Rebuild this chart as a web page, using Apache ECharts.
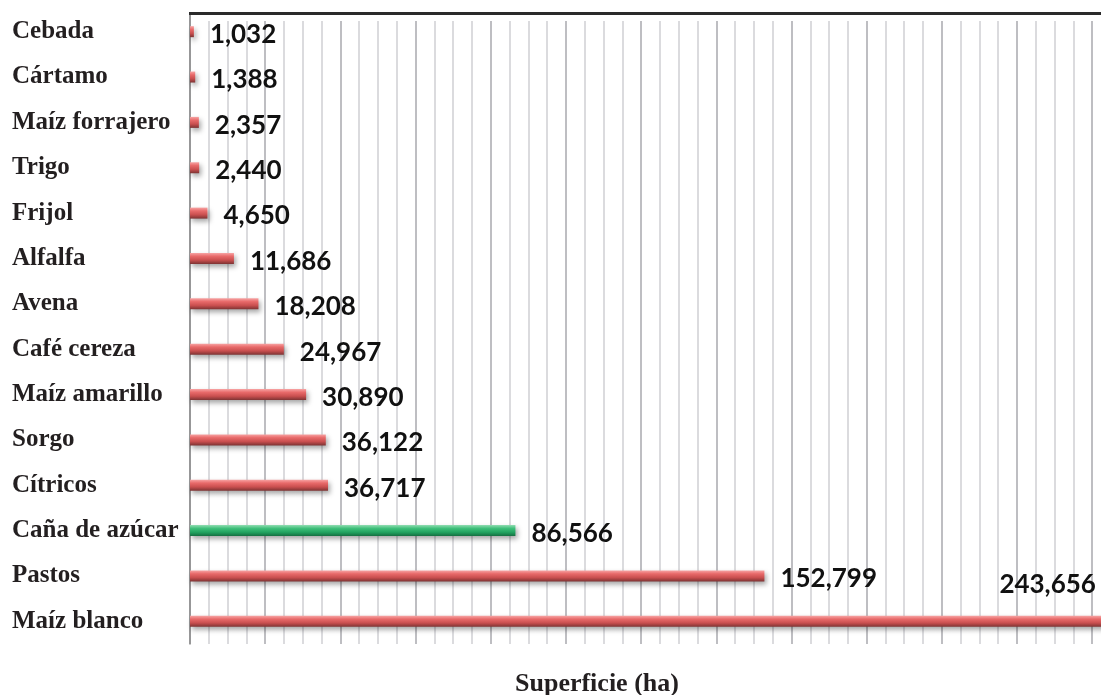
<!DOCTYPE html>
<html>
<head>
<meta charset="utf-8">
<script src="https://cdn.jsdelivr.net/npm/echarts@6/dist/echarts.min.js"></script>
<style>
html,body{margin:0;padding:0;background:#fff;}
#main{width:1101px;height:695px;}
</style>
</head>
<body>
<div id="main"></div>
<script>
const categories = ['Cebada','Cártamo','Maíz forrajero','Trigo','Frijol','Alfalfa','Avena','Café cereza','Maíz amarillo','Sorgo','Cítricos','Caña de azúcar','Pastos','Maíz blanco'];
const values = [1032,1388,2357,2440,4650,11686,18208,24967,30890,36122,36717,86566,152799,243656];
const highlight = 'Caña de azúcar';
const axisTitle = 'Superficie (ha)';

const redGrad = new echarts.graphic.LinearGradient(0,0,0,1,[
  {offset:0,color:'#f7a4a4'},
  {offset:0.3,color:'#e86a6a'},
  {offset:0.65,color:'#c94f4f'},
  {offset:1,color:'#7d3333'}
]);
const greenGrad = new echarts.graphic.LinearGradient(0,0,0,1,[
  {offset:0,color:'#8fdcb0'},
  {offset:0.3,color:'#3fbf7a'},
  {offset:0.65,color:'#22a360'},
  {offset:1,color:'#156e40'}
]);

const fmt = v => v.toLocaleString('en-US');
const lastIdx = values.length - 1;

const data = values.map((v,i)=>{
  const item = {value:v, itemStyle:{color: categories[i]===highlight ? greenGrad : redGrad}};
  if (i === lastIdx) {
    item.label = {position:'insideTopRight', distance:4, offset:[-6,-48]};
  }
  return item;
});

const chart = echarts.init(document.getElementById('main'), null, {renderer:'canvas'});
chart.setOption({
  animation:false,
  backgroundColor:'#fff',
  grid:{left:190, width:921, top:9, height:635, containLabel:false, outerBoundsMode:'none'},
  title:{
    text:axisTitle, left:510, top:666,
    textStyle:{fontFamily:'Liberation Serif', fontWeight:'bold', fontSize:26, color:'#231f20'}
  },
  xAxis:{
    type:'value', min:0, max:245000, interval:5000,
    axisLine:{show:false}, axisTick:{show:false}, axisLabel:{show:false},
    splitLine:{show:true, lineStyle:{color:['#a9a9ae','#cfcfd3','#cfcfd3','#cfcfd3'], width:1.5}}
  },
  yAxis:{
    type:'category', data:categories, inverse:true,
    axisLine:{show:true, lineStyle:{color:'#8a8a8a', width:1.5}},
    axisTick:{show:false},
    axisLabel:{
      align:'left', margin:178,
      fontFamily:'Liberation Serif', fontWeight:'bold', fontSize:25, color:'#231f20'
    }
  },
  series:[{
    type:'bar', data:data, barWidth:11,
    itemStyle:{shadowColor:'rgba(0,0,0,0.35)', shadowBlur:5, shadowOffsetX:2, shadowOffsetY:3},
    label:{
      show:true, position:'right', distance:16, offset:[0,3],
      fontFamily:'Lato', fontWeight:'bold', fontSize:26, color:'#111',
      formatter:p=>fmt(p.value)
    }
  }],
  graphic:[
    {type:'rect', shape:{x:185, y:0, width:930, height:12}, style:{fill:'#fff'}, z:50, silent:true},
    {type:'rect', shape:{x:191, y:15, width:920, height:6}, style:{fill:'#fff'}, z:50, silent:true},
    {type:'rect', shape:{x:189, y:12, width:912, height:3}, style:{fill:'#2a2a2a'}, z:51, silent:true}
  ]
});
</script>
</body>
</html>
